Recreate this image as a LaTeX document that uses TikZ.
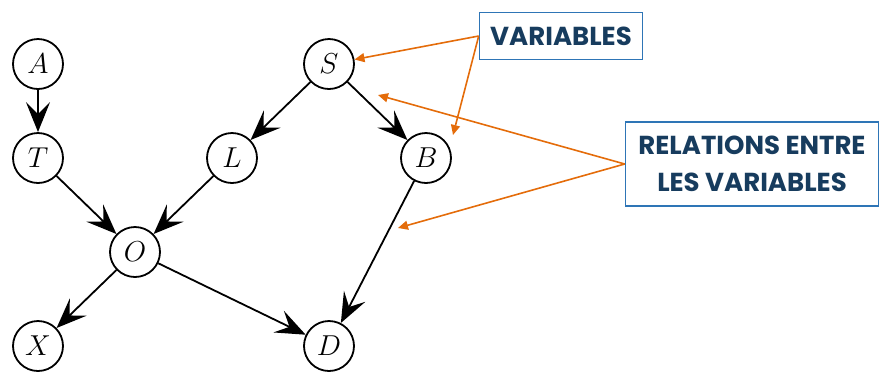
\documentclass[tikz,border=0pt]{standalone}
\usepackage{fontspec}
\newfontfamily\notefont{Poppins}
\usepackage{tikz}
\usetikzlibrary{arrows.meta, positioning, calc}
\definecolor{noteorange}{RGB}{228,108,10}
\definecolor{noteblue}{RGB}{46,117,182}
\definecolor{notetext}{RGB}{23,60,94}
\tikzset{
    var/.style={circle, draw, line width=0.9pt, minimum size=25pt, inner sep=0pt, font=\Large},
    rel/.style={-{Stealth[length=15pt, width=12pt, inset=6pt]}, line width=0.9pt},
    note/.style={draw=noteblue, line width=0.8pt, fill=white, text=notetext, align=center,
      font=\notefont\bfseries\fontsize{13pt}{18.5pt}\selectfont},
    pointer/.style={-{Triangle[length=5pt, width=4.5pt]}, draw=noteorange, line width=0.8pt},
}
\begin{document}
\begin{tikzpicture}
    \tikzset{
      node distance=47pt and 48.5pt,
      on grid
    }

    \node[var] (A) {$A$};
    \node[var, below=of A] (T) {$T$};
    \node[var, below right=of T] (O) {$O$};
    \node[var, below left=of O] (X) {$X$};
    \node[var, above right=of O] (L) {$L$};
    \node[var, above right=of L] (S) {$S$};
    \node[var, below right=of S] (B) {$B$};
    \node[var, right=145.5pt of X] (D) {$D$};

    \useasboundingbox ($(A)+(-19pt,32pt)$) rectangle ($(A)+(421pt,-154pt)$);

    \draw[rel] (A) -- (T);
    \draw[rel] (T) -- (O);
    \draw[rel] (L) -- (O);
    \draw[rel] (S) -- (L);
    \draw[rel] (S) -- (B);
    \draw[rel] (B) -- (D);
    \draw[rel] (O) -- (X);
    \draw[rel] (O) -- (D);

    \node[note, minimum width=81.5pt, minimum height=23.5pt] (vars) at ($(S)+(116pt,14pt)$) {VARIABLES};
    \node[note, minimum width=126.5pt, minimum height=42pt] (rels) at ($(B)+(163pt,-3pt)$) {RELATIONS ENTRE\\LES VARIABLES};

    \coordinate (bnote) at ($(B)+(13.5pt,11.5pt)$);
    \coordinate (sbnote) at ($(S)+(24.5pt,-15.5pt)$);
    \coordinate (bdnote) at ($(B)+(-14pt,-35pt)$);

    \draw[pointer] (vars.west) -- (S.10);
    \draw[pointer] (vars.west) -- (bnote);
    \draw[pointer] (rels.west) -- (sbnote);
    \draw[pointer] (rels.west) -- (bdnote);

  \end{tikzpicture}
\end{document}
